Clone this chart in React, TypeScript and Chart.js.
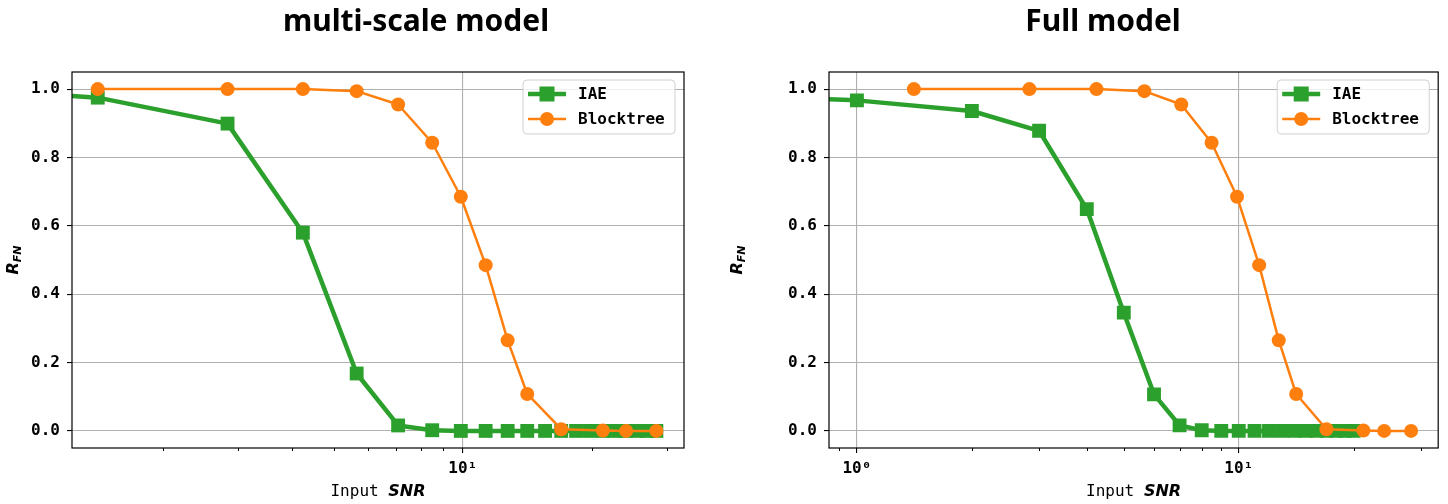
import React, { useEffect, useRef } from 'react';
import { Chart, registerables } from 'chart.js';

Chart.register(...registerables);

// ---------------- data ----------------
const iaeSnrLeft = [0, 1.41, 2.83, 4.24, 5.66, 7.07, 8.49, 9.9, 11.31, 12.73, 14.14, 15.56, 16.97, 18.38, 19.8, 21.21, 22.63, 24.04, 25.46, 26.87, 28.28];
const iaeRfnLeft = [0.98, 0.975, 0.899, 0.58, 0.168, 0.016, 0.002, 0, 0, 0, 0, 0, 0, 0, 0, 0, 0, 0, 0, 0, 0];

const iaeSnrRight = [0, 1, 2, 3, 4, 5, 6, 7, 8, 9, 10, 11, 12, 13, 14, 15, 16, 17, 18, 19, 20];
const iaeRfnRight = [0.97, 0.967, 0.936, 0.878, 0.649, 0.346, 0.107, 0.016, 0.002, 0, 0, 0, 0, 0, 0, 0, 0, 0, 0, 0, 0];

const blockSnr = [1.41, 2.83, 4.24, 5.66, 7.07, 8.49, 9.9, 11.31, 12.73, 14.14, 16.97, 21.21, 24.04, 28.28];
const blockRfnLeft = [1.0, 1.0, 1.0, 0.994, 0.955, 0.843, 0.685, 0.485, 0.265, 0.108, 0.005, 0.001, 0, 0];
const blockRfnRight = [1.0, 1.0, 1.0, 0.994, 0.955, 0.843, 0.685, 0.485, 0.265, 0.108, 0.005, 0.001, 0, 0];

const xTicksLeft = [2, 3, 4, 5, 6, 7, 8, 9, 10, 20, 30];
const xTicksRight = [0.9, 1, 2, 3, 4, 5, 6, 7, 8, 9, 10, 20, 30];
const xMajorTicks = [1, 10];
const xMajorLabels: Record<number, string> = { 1: '10\u2070', 10: '10\u00B9' };
const yTicks = [0, 0.2, 0.4, 0.6, 0.8, 1.0];

const seriesNames = ['IAE', 'Blocktree'];
const titles = ['multi-scale model', 'Full model'];

// ---------------- styles ----------------
const GREEN = '#2ca02c';
const ORANGE = '#ff7f0e';
const GRID = '#b0b0b0';
const MONO = '"DejaVu Sans Mono", monospace';
const SANS = '"DejaVu Sans", sans-serif';
const W = 724;
const H = 504;

type PanelCfg = {
  iaeX: number[];
  iaeY: number[];
  btX: number[];
  btY: number[];
  xMin: number;
  xMax: number;
  xTicks: number[];
  yAxisWidth: number;
  padRight: number;
  title: string;
  titleX: number;
};

function decorPlugin(p: PanelCfg) {
  return {
    id: 'decor',
    afterDraw(chart: any) {
      const ctx = chart.ctx as CanvasRenderingContext2D;
      const ca = chart.chartArea;
      const xs = chart.scales.x;
      ctx.save();

      // minor x ticks
      ctx.strokeStyle = '#000';
      ctx.lineWidth = 1;
      p.xTicks.forEach((v) => {
        if (xMajorTicks.includes(v)) return;
        const px = Math.round(xs.getPixelForValue(v)) + 0.5;
        ctx.beginPath();
        ctx.moveTo(px, ca.bottom);
        ctx.lineTo(px, ca.bottom + 3);
        ctx.stroke();
      });

      // frame
      ctx.strokeStyle = '#000';
      ctx.lineWidth = 1.2;
      ctx.strokeRect(ca.left, ca.top, ca.right - ca.left, ca.bottom - ca.top);

      // legend
      const bw = 152;
      const bh = 54;
      const bx = ca.right - 9 - bw;
      const by = ca.top + 8;
      ctx.beginPath();
      const r = 4;
      ctx.moveTo(bx + r, by);
      ctx.arcTo(bx + bw, by, bx + bw, by + bh, r);
      ctx.arcTo(bx + bw, by + bh, bx, by + bh, r);
      ctx.arcTo(bx, by + bh, bx, by, r);
      ctx.arcTo(bx, by, bx + bw, by, r);
      ctx.closePath();
      ctx.fillStyle = 'rgba(255,255,255,0.8)';
      ctx.fill();
      ctx.strokeStyle = '#d0d0d0';
      ctx.lineWidth = 1;
      ctx.stroke();

      const rows = [
        { ds: chart.data.datasets[0], y: by + 14, marker: 'rect' },
        { ds: chart.data.datasets[1], y: by + 39, marker: 'circle' },
      ];
      rows.forEach((row) => {
        const ds = row.ds;
        ctx.strokeStyle = ds.borderColor;
        ctx.lineWidth = ds.borderWidth;
        ctx.beginPath();
        ctx.moveTo(bx + 5, row.y);
        ctx.lineTo(bx + 43, row.y);
        ctx.stroke();
        ctx.fillStyle = ds.borderColor;
        if (row.marker === 'rect') {
          ctx.fillRect(bx + 24 - 7.5, row.y - 7.5, 15, 15);
        } else {
          ctx.beginPath();
          ctx.arc(bx + 24, row.y, 7, 0, Math.PI * 2);
          ctx.fill();
        }
        ctx.fillStyle = '#000';
        ctx.font = `bold 16px ${MONO}`;
        ctx.textBaseline = 'middle';
        ctx.textAlign = 'left';
        ctx.fillText(ds.label, bx + 55, row.y + 1);
      });

      // title
      ctx.fillStyle = '#000';
      ctx.font = `bold 30px "Noto Sans", "Open Sans", sans-serif`;
      ctx.textAlign = 'center';
      ctx.textBaseline = 'alphabetic';
      ctx.fillText(p.title, p.titleX, 31);

      // x axis title: "Input SNR"
      const cx = (ca.left + ca.right) / 2;
      ctx.textAlign = 'left';
      ctx.font = `16px ${MONO}`;
      const part1 = 'Input ';
      const w1 = ctx.measureText(part1).width;
      ctx.font = `italic bold 16px ${SANS}`;
      const w2 = ctx.measureText('SNR').width;
      const sx = cx - (w1 + w2) / 2;
      ctx.font = `16px ${MONO}`;
      ctx.fillText(part1, sx, 496);
      ctx.font = `italic bold 16px ${SANS}`;
      ctx.fillText('SNR', sx + w1, 496);

      // y axis title: R_FN
      ctx.save();
      ctx.translate(18, 260);
      ctx.rotate(-Math.PI / 2);
      ctx.font = `italic bold 16px ${SANS}`;
      const wr = ctx.measureText('R').width;
      ctx.font = `italic bold 11px ${SANS}`;
      const wf = ctx.measureText('FN').width;
      const tx = -(wr + wf) / 2;
      ctx.font = `italic bold 16px ${SANS}`;
      ctx.fillText('R', tx, 0);
      ctx.font = `italic bold 11px ${SANS}`;
      ctx.fillText('FN', tx + wr, 3);
      ctx.restore();

      ctx.restore();
    },
  };
}

function makeConfig(p: PanelCfg): any {
  const hideZero = (radius: number) => (c: any) => (c.raw && c.raw.x === 0 ? 0 : radius);
  return {
    type: 'line',
    data: {
      datasets: [
        {
          label: seriesNames[0],
          data: p.iaeX.map((x, i) => ({ x, y: p.iaeY[i] })),
          borderColor: GREEN,
          backgroundColor: GREEN,
          borderWidth: 4.5,
          borderJoinStyle: 'round',
          pointStyle: 'rect',
          pointRadius: hideZero(9.8),
          pointBorderWidth: 0,
          pointBackgroundColor: GREEN,
          tension: 0,
          order: 1,
        },
        {
          label: seriesNames[1],
          data: p.btX.map((x, i) => ({ x, y: p.btY[i] })),
          borderColor: ORANGE,
          backgroundColor: ORANGE,
          borderWidth: 2.5,
          borderJoinStyle: 'round',
          pointStyle: 'circle',
          pointRadius: 7,
          pointBorderWidth: 0,
          pointBackgroundColor: ORANGE,
          tension: 0,
          order: 0,
        },
      ],
    },
    options: {
      animation: false,
      responsive: false,
      devicePixelRatio: 1,
      events: [],
      layout: { padding: { left: 0, top: 72, right: p.padRight, bottom: 0 } },
      plugins: {
        legend: { display: false },
        tooltip: { enabled: false },
        title: { display: false },
      },
      scales: {
        x: {
          type: 'logarithmic',
          min: p.xMin,
          max: p.xMax,
          afterBuildTicks: (scale: any) => {
            scale.ticks = p.xTicks.map((v) => ({ value: v, major: xMajorTicks.includes(v) }));
          },
          afterFit: (scale: any) => {
            scale.height = H - 448;
          },
          border: { display: false },
          grid: {
            color: (c: any) => (c.tick && xMajorTicks.includes(c.tick.value) ? GRID : 'rgba(0,0,0,0)'),
            lineWidth: 1.1,
            tickColor: (c: any) => (c.tick && xMajorTicks.includes(c.tick.value) ? '#000' : 'rgba(0,0,0,0)'),
            tickLength: 5,
            drawTicks: true,
          },
          ticks: {
            autoSkip: false,
            maxRotation: 0,
            minRotation: 0,
            padding: 6,
            color: '#000',
            font: { family: MONO, weight: 'bold', size: 16 },
            callback: (v: number) => xMajorLabels[v] ?? '',
          },
        },
        y: {
          type: 'linear',
          min: -0.05,
          max: 1.05,
          afterBuildTicks: (scale: any) => {
            scale.ticks = yTicks.map((v) => ({ value: v }));
          },
          afterFit: (scale: any) => {
            scale.width = p.yAxisWidth;
          },
          border: { display: false },
          grid: {
            color: GRID,
            lineWidth: 1.1,
            tickColor: '#000',
            tickLength: 5,
          },
          ticks: {
            padding: 7,
            color: '#000',
            font: { family: MONO, weight: 'bold', size: 16 },
            callback: (v: number) => Number(v).toFixed(1),
          },
        },
      },
    },
    plugins: [decorPlugin(p)],
  };
}

const panels: PanelCfg[] = [
  {
    iaeX: iaeSnrLeft,
    iaeY: iaeRfnLeft,
    btX: blockSnr,
    btY: blockRfnLeft,
    xMin: 1.228,
    xMax: 32.8,
    xTicks: xTicksLeft,
    yAxisWidth: 72,
    padRight: W - 684,
    title: titles[0],
    titleX: 416,
  },
  {
    iaeX: iaeSnrRight,
    iaeY: iaeRfnRight,
    btX: blockSnr,
    btY: blockRfnRight,
    xMin: 0.845,
    xMax: 33.3,
    xTicks: xTicksRight,
    yAxisWidth: 105,
    padRight: W - 717,
    title: titles[1],
    titleX: 1103 - W,
  },
];

function Panel({ cfg, left }: { cfg: PanelCfg; left: number }) {
  const ref = useRef<HTMLCanvasElement>(null);
  useEffect(() => {
    const chart = new Chart(ref.current as HTMLCanvasElement, makeConfig(cfg));
    return () => chart.destroy();
  }, [cfg]);
  return (
    <canvas
      ref={ref}
      width={W}
      height={H}
      style={{ position: 'absolute', left, top: 0, width: W, height: H }}
    />
  );
}

export default function App() {
  return (
    <div style={{ position: 'fixed', left: 0, top: 0, width: 1448, height: 504, background: '#fff' }}>
      <Panel cfg={panels[0]} left={0} />
      <Panel cfg={panels[1]} left={W} />
    </div>
  );
}
